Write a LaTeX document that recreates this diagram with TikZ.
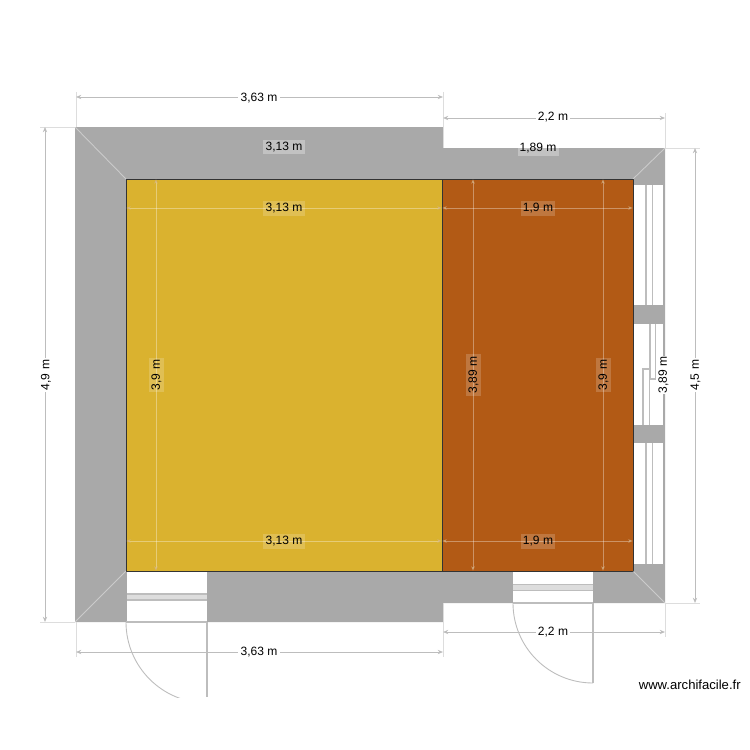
\documentclass[tikz,border=0pt]{standalone}
\usepackage{fontspec}
\setmainfont{Liberation Sans}
\usetikzlibrary{arrows.meta}
\definecolor{wallc}{HTML}{A9A9A9}
\definecolor{yelc}{HTML}{DAB22F}
\definecolor{brnc}{HTML}{B25A15}
\definecolor{dimc}{HTML}{BDBDBD}
\definecolor{extc}{HTML}{DDDDDD}
\definecolor{tipc}{HTML}{D8B890}
\tikzset{
  dimline/.style={draw=dimc,line width=0.55pt,{Stealth[length=3pt,width=2.4pt,color=dimc]}-{Stealth[length=3pt,width=2.4pt,color=dimc]}},
  indim/.style={draw=white,draw opacity=0.35,line width=0.55pt,{Stealth[length=3pt,width=2.4pt,color=tipc]}-{Stealth[length=3pt,width=2.4pt,color=tipc]}},
  extline/.style={draw=extc,line width=0.5pt},
  diag/.style={draw=white,draw opacity=0.4,line width=0.5pt},
  sash/.style={draw=dimc,line width=0.6pt},
  lbl/.style={font=\fontsize{6.85pt}{8pt}\selectfont,inner sep=1.2pt,text=black},
  outl/.style={lbl,fill=white},
  inl/.style={lbl,fill=white,fill opacity=0.18,text opacity=1},
  wallbg/.style={lbl,fill=white,fill opacity=0.3,text opacity=1},
}
\begin{document}
\begin{tikzpicture}[x=0.02cm,y=-0.02cm]
\useasboundingbox (0,0) rectangle (750,750);
\fill[white] (0,0) rectangle (750,750);
% walls
\fill[wallc] (75,127) -- (443,127) -- (443,148) -- (665,148) -- (665,603) -- (443,603) -- (443,622) -- (75,622) -- cycle;
% rooms
\fill[yelc] (126,179) rectangle (442,571);
\fill[brnc] (442,179) rectangle (633,571);
\draw[black!80,line width=0.5pt] (126,179) rectangle (442,571);
\draw[black!80,line width=0.5pt] (442,179) rectangle (633,571);
% diagonals
\draw[diag] (75,127) -- (126,179);
\draw[diag] (75,622) -- (126,571);
\draw[diag] (665,148) -- (633,179);
\draw[diag] (665,603) -- (633,571);
% right windows
\fill[white] (634,185) rectangle (663,305);
\fill[white] (634,324) rectangle (663,425);
\fill[white] (634,443) rectangle (663,564);
\draw[sash] (646,185) -- (646,305) (652.5,185) -- (652.5,305);
\draw[sash] (646,443) -- (646,564) (652.5,443) -- (652.5,564);
\draw[sash] (650,324) -- (650,379) -- (655.5,379) -- (655.5,324);
\draw[sash] (643,425) -- (643,369) -- (649.5,369) -- (649.5,425);
% left door
\fill[white] (126.5,572) rectangle (207,622);
\fill[extc] (126.5,594) rectangle (207,600);
\draw[sash] (126.5,594) -- (207,594) (126.5,600) -- (207,600);
\draw[dimc,line width=0.7pt] (126,622) -- (207,622);
\draw[dimc,line width=0.6pt] (207,622) -- (207,697);
\begin{scope}
\clip (100,622) rectangle (207,697);
\draw[dimc,line width=0.5pt] (126,622) arc[start angle=180,end angle=90,x radius=81,y radius=81];
\end{scope}
% right door
\fill[white] (513,572) rectangle (593,603);
\fill[extc] (513,584.5) rectangle (593,590.5);
\draw[sash] (513,584.5) -- (593,584.5) (513,590.5) -- (593,590.5);
\draw[dimc,line width=0.7pt] (513,603) -- (593,603);
\draw[dimc,line width=0.6pt] (593,603) -- (593,683);
\draw[dimc,line width=0.5pt] (513,603) arc[start angle=180,end angle=90,x radius=80,y radius=80];
% extension lines
\draw[extline] (76,92) -- (76,127) (443,92) -- (443,127);
\draw[extline] (443,113) -- (443,148) (665,113) -- (665,148);
\draw[extline] (40,127) -- (75,127) (40,622) -- (75,622);
\draw[extline] (665,148) -- (700,148) (665,603) -- (700,603);
\draw[extline] (76,622) -- (76,657) (443,622) -- (443,657);
\draw[extline] (443,603) -- (443,637) (665,603) -- (665,637);
% outer dims
\draw[dimline] (76,97) -- (443,97);
\draw[dimline] (443,118) -- (665,118);
\draw[dimline] (45,127) -- (45,622);
\draw[dimline] (695,148) -- (695,603);
\draw[dimline] (76,652) -- (443,652);
\draw[dimline] (443,632) -- (665,632);
% inner dims
\draw[indim] (126,208) -- (442,208);
\draw[indim] (442,208) -- (633,208);
\draw[indim] (126,541) -- (442,541);
\draw[indim] (442,541) -- (633,541);
\draw[indim] (156,179) -- (156,571);
\draw[indim] (473,179) -- (473,571);
\draw[indim] (603,179) -- (603,571);
% labels
\node[outl] (t1) at (259,98) {3,63 m};
\node[outl] (t2) at (553,117.5) {2,2 m};
\node[outl,rotate=90] (l1) at (46,375) {4,9 m};
\node[outl,rotate=90] (r1) at (695.5,375) {4,5 m};
\node[outl] (b1) at (259,652) {3,63 m};
\node[outl] (b2) at (553,632) {2,2 m};
\node[wallbg] (w1) at (284,147) {3,13 m};
\node[wallbg] (w2) at (538,148.5) {1,89 m};
\node[inl] (i1) at (284,208.5) {3,13 m};
\node[inl] (i2) at (538,208.5) {1,9 m};
\node[inl] (i3) at (284,541.5) {3,13 m};
\node[inl] (i4) at (538,541.5) {1,9 m};
\node[inl,rotate=90] (v1) at (156.5,375) {3,9 m};
\node[inl,rotate=90] (v2) at (473.5,375) {3,89 m};
\node[inl,rotate=90] (v3) at (603.5,375) {3,9 m};
\node[outl,rotate=90,inner sep=0.3pt] (v4) at (663.5,375) {3,89 m};
\node[lbl,anchor=east,inner sep=0pt,font=\fontsize{7.45pt}{9pt}\selectfont] (site) at (741,684.5) {www.archifacile.fr};
\end{tikzpicture}
\end{document}
